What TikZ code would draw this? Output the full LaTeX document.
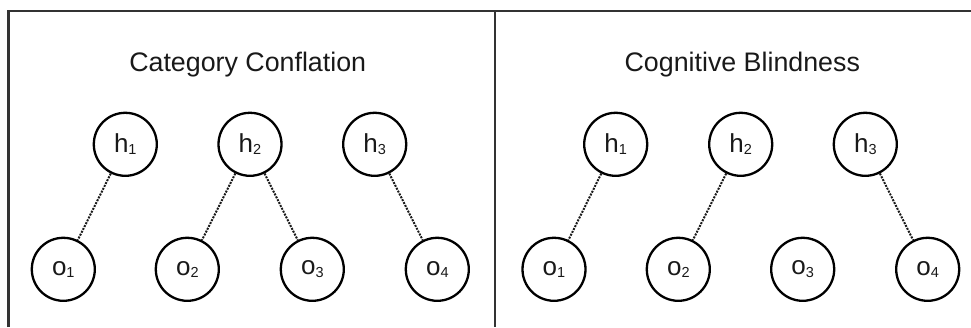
\documentclass[tikz,border=0pt]{standalone}
\usepackage{fontspec}
\setmainfont{Liberation Sans}
\newcommand{\lab}[2]{#1{\fontsize{14.5}{15}\selectfont\raisebox{-2.5pt}{#2}}}
\begin{document}
\begin{tikzpicture}[x=1pt,y=-1pt,
  unit/.style={circle,draw=black,line width=2.3pt,minimum size=63pt,inner sep=0pt,
    font=\fontsize{26}{26}\selectfont,text=black!90},
  title/.style={font=\fontsize{26.8}{30}\selectfont,text=black!90},
  link/.style={line width=2pt,dash pattern=on 2pt off 1.2pt,draw=black!90},
  frame/.style={line width=2.2pt,draw=black!80}]
\useasboundingbox (0,0) rectangle (971,327);
\coordinate (tl) at (8.5,11);
\coordinate (bl) at (8.5,327);
\coordinate (tm) at (495,11);
\coordinate (bm) at (495,327);
\coordinate (tr) at (971,11);
\draw[frame] (bl) -- (tl) -- (tr);
\draw[frame] (tm) -- (bm);
% left panel
\node[title] (t1) at (247.7,65) {Category Conflation};
\node[unit] (Lh1) at (125.3,144.3) {\lab{h}{1}};
\node[unit] (Lh2) at (250,144.3) {\lab{h}{2}};
\node[unit] (Lh3) at (374.7,144.3) {\lab{h}{3}};
\node[unit] (Lo1) at (63.3,269.3) {\lab{o}{1}};
\node[unit] (Lo2) at (187.3,269.3) {\lab{o}{2}};
\node[unit] (Lo3) at (312.3,269.3) {\lab{o}{3}};
\node[unit] (Lo4) at (437.3,269.3) {\lab{o}{4}};
\draw[link] (Lh1) -- (Lo1);
\draw[link] (Lh2) -- (Lo2);
\draw[link] (Lh2) -- (Lo3);
\draw[link] (Lh3) -- (Lo4);
% right panel
\node[title] (t2) at (742.3,65) {Cognitive Blindness};
\node[unit] (Rh1) at (615.7,144.3) {\lab{h}{1}};
\node[unit] (Rh2) at (740.7,144.3) {\lab{h}{2}};
\node[unit] (Rh3) at (865.3,144.3) {\lab{h}{3}};
\node[unit] (Ro1) at (554,269.3) {\lab{o}{1}};
\node[unit] (Ro2) at (678.3,269.3) {\lab{o}{2}};
\node[unit] (Ro3) at (802.7,269.3) {\lab{o}{3}};
\node[unit] (Ro4) at (927.7,269.3) {\lab{o}{4}};
\draw[link] (Rh1) -- (Ro1);
\draw[link] (Rh2) -- (Ro2);
\draw[link] (Rh3) -- (Ro4);
\end{tikzpicture}
\end{document}
